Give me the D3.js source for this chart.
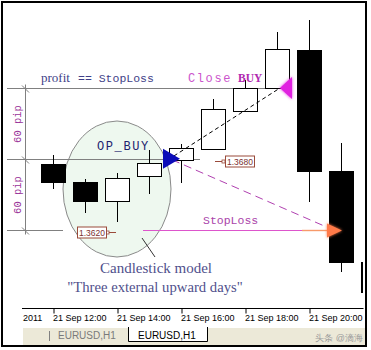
<!DOCTYPE html>
<html>
<head>
<meta charset="utf-8">
<script src="https://cdn.jsdelivr.net/npm/d3@7"></script>
<style>
  body { margin: 0; background: #fff; }
  svg text { font-family: "Liberation Sans", Arial, sans-serif; }
  svg .mono { font-family: "Liberation Mono", "Courier New", monospace; }
  svg .serif { font-family: "Liberation Serif", "Times New Roman", serif; }
</style>
</head>
<body>
<div id="chart"></div>
<script>
// EURUSD H1, 21 Sep 2011
const barTimes = ["2011-09-21T12:00", "2011-09-21T13:00", "2011-09-21T14:00", "2011-09-21T15:00",
                  "2011-09-21T16:00", "2011-09-21T17:00", "2011-09-21T18:00", "2011-09-21T19:00",
                  "2011-09-21T20:00", "2011-09-21T21:00", "2011-09-21T22:00"];
const opens  = [1.36756, 1.36603, 1.36442, 1.36654, 1.36790, 1.36883, 1.37205, 1.37400, 1.37723, 1.36696, 1.35924];
const highs  = [1.36832, 1.36628, 1.36679, 1.36874, 1.36925, 1.37307, 1.37468, 1.37875, 1.37977, 1.36934, 1.35924];
const lows   = [1.36543, 1.36340, 1.36264, 1.36501, 1.36594, 1.36880, 1.37200, 1.37400, 1.36433, 1.35840, 1.35670];
const closes = [1.36603, 1.36442, 1.36637, 1.36764, 1.36891, 1.37222, 1.37400, 1.37731, 1.36696, 1.35924, 1.35670];

const tickTimes  = ["2011-09-21T10:00", "2011-09-21T12:00", "2011-09-21T14:00",
                    "2011-09-21T16:00", "2011-09-21T18:00", "2011-09-21T20:00"];
const tickLabels = ["2011", "21 Sep 12:00", "21 Sep 14:00", "21 Sep 16:00", "21 Sep 18:00", "21 Sep 20:00"];

// trade levels
const takeProfit = 1.3740;
const openPrice  = 1.3680;
const stopLoss   = 1.3620;
const openTime   = "2011-09-21T16:00";
const closeTime  = "2011-09-21T19:00";
const stopTime   = "2011-09-21T21:00";

const parseTime = d3.timeParse("%Y-%m-%dT%H:%M");

class CandleChart {
    constructor(parentSelector) {
        this.parent = d3.select(parentSelector);
        this.wSvg = 371;
        this.hSvg = 350;
        this.plot = { left: 22, right: 363, axisY: 308.5 };
        this.colors = {
            grey: "#808080",
            purple: "#993399",
            navy: "#3f3f88",
            brown: "#9a4a3a",
            pink: "#dd55cc",
            orange: "#f79a6a"
        };
        this.bars = barTimes.map((t, i) => ({
            time: parseTime(t), open: opens[i], high: highs[i], low: lows[i], close: closes[i]
        }));
        this.init();
    }

    init() {
        this.svg = this.parent.append("svg")
            .attr("width", this.wSvg)
            .attr("height", this.hSvg);

        this.renderDefs();
        this.prepScales();
        this.renderEllipse();
        this.renderLevels();
        this.renderCandles();
        this.renderTrade();
        this.renderTexts();
        this.renderAxis();
        this.renderTabs();

        this.svg.append("rect")
            .attr("x", 2).attr("y", 2)
            .attr("width", 364).attr("height", 344)
            .attr("fill", "none").attr("stroke", "#000").attr("stroke-width", 2);
    }

    renderDefs() {
        const defs = this.svg.append("defs");
        defs.append("clipPath").attr("id", "plotClip")
            .append("rect")
            .attr("x", this.plot.left).attr("y", 0)
            .attr("width", this.plot.right - this.plot.left).attr("height", this.plot.axisY);
        const glow = defs.append("filter").attr("id", "glow")
            .attr("x", "-50%").attr("y", "-50%").attr("width", "200%").attr("height", "200%");
        glow.append("feGaussianBlur").attr("in", "SourceGraphic").attr("stdDeviation", 1.5).attr("result", "b");
        const merge = glow.append("feMerge");
        merge.append("feMergeNode").attr("in", "b");
        merge.append("feMergeNode").attr("in", "SourceGraphic");
    }

    prepScales() {
        // 32px per hour, 12:00 at x = 53
        this.xScale = d3.scaleTime()
            .domain([parseTime("2011-09-21T10:00"), parseTime("2011-09-21T22:00")])
            .range([-11, 373]);

        this.yScale = d3.scaleLinear()
            .domain([stopLoss, takeProfit])
            .range([229.5, 88]);
    }

    renderEllipse() {
        this.svg.append("ellipse")
            .attr("cx", 117).attr("cy", 189)
            .attr("rx", 54).attr("ry", 68)
            .attr("fill", "#eef8ef")
            .attr("stroke", "#8a8a8a").attr("stroke-width", 1);
        this.svg.append("line")
            .attr("x1", 142).attr("y1", 238).attr("x2", 155).attr("y2", 257)
            .attr("stroke", "#333").attr("stroke-width", 1);
    }

    renderLevels() {
        const g = this.svg.append("g").attr("class", "levels");
        const yT = Math.round(this.yScale(takeProfit)) + 0.5;
        const yO = Math.round(this.yScale(openPrice)) + 0.5;
        const yS = Math.round(this.yScale(stopLoss)) + 0.5;
        const xOpen = this.xScale(parseTime(openTime));
        const xClose = this.xScale(parseTime(closeTime));

        g.append("line").attr("x1", 7).attr("x2", xClose + 4).attr("y1", yT).attr("y2", yT)
            .attr("stroke", this.colors.grey);
        g.append("line").attr("x1", 7).attr("x2", xOpen + 19).attr("y1", yO).attr("y2", yO)
            .attr("stroke", this.colors.grey);
        g.append("line").attr("x1", 7).attr("x2", 63).attr("y1", yS).attr("y2", yS)
            .attr("stroke", this.colors.grey);

        // 60 pip ruler
        g.append("line").attr("x1", 25.5).attr("x2", 25.5).attr("y1", yT - 4).attr("y2", yS + 4)
            .attr("stroke", this.colors.grey);
        [yT, yO, yS].forEach(y => {
            g.append("line").attr("x1", 22).attr("y1", y - 3).attr("x2", 29).attr("y2", y + 4)
                .attr("stroke", this.colors.grey);
        });
        [[yT, yO], [yO, yS]].forEach(([a, b]) => {
            g.append("text")
                .attr("class", "mono")
                .attr("transform", `translate(21, ${(a + b) / 2}) rotate(-90)`)
                .attr("text-anchor", "middle")
                .attr("font-size", 10.5)
                .attr("fill", this.colors.purple)
                .text("60 pip");
        });
    }

    renderCandles() {
        const half = 12;
        const g = this.svg.append("g").attr("class", "candles").attr("clip-path", "url(#plotClip)");
        const candle = g.selectAll("g").data(this.bars).enter().append("g");

        candle.append("line")
            .attr("x1", d => Math.round(this.xScale(d.time)) + 0.5)
            .attr("x2", d => Math.round(this.xScale(d.time)) + 0.5)
            .attr("y1", d => Math.round(this.yScale(d.high)))
            .attr("y2", d => Math.round(this.yScale(d.low)))
            .attr("stroke", "#000");

        candle.append("rect")
            .attr("x", d => Math.round(this.xScale(d.time)) - half + 0.5)
            .attr("y", d => Math.round(this.yScale(Math.max(d.open, d.close))) + 0.5)
            .attr("width", half * 2)
            .attr("height", d => Math.max(1, Math.round(this.yScale(Math.min(d.open, d.close))) - Math.round(this.yScale(Math.max(d.open, d.close)))))
            .attr("fill", d => d.close >= d.open ? "#fff" : "#000")
            .attr("stroke", "#000");
    }

    renderTrade() {
        const g = this.svg.append("g").attr("class", "trade");
        const yT = this.yScale(takeProfit);
        const yO = this.yScale(openPrice);
        const yS = Math.round(this.yScale(stopLoss)) + 0.5;
        const xOpen = this.xScale(parseTime(openTime)) - 1;
        const xClose = this.xScale(parseTime(closeTime)) + 3;
        const xStop = this.xScale(parseTime(stopTime)) + 1;

        // stop loss line
        g.append("line").attr("x1", 143).attr("x2", 302).attr("y1", yS).attr("y2", yS)
            .attr("stroke", this.colors.pink).attr("stroke-width", 1.2);
        g.append("line").attr("x1", 302).attr("x2", xStop - 14).attr("y1", yS).attr("y2", yS)
            .attr("stroke", this.colors.orange).attr("stroke-width", 1.4);

        // dashed trade paths
        g.append("line").attr("x1", xOpen - 12).attr("y1", yO + 1).attr("x2", xClose).attr("y2", yT)
            .attr("stroke", "#000").attr("stroke-dasharray", "4,3");
        g.append("line").attr("x1", xOpen - 8).attr("y1", yO + 1).attr("x2", xStop - 12).attr("y2", yS - 2)
            .attr("stroke", "#b040b0").attr("stroke-dasharray", "8,5");

        // arrows
        g.append("path")
            .attr("d", `M${xOpen},${yO} L${xOpen - 17},${yO - 10} L${xOpen - 17},${yO + 10} Z`)
            .attr("fill", "#0c0cb8");
        g.append("path")
            .attr("d", `M${xClose},${yT} L${xClose + 12},${yT - 11} L${xClose + 12},${yT + 11} Z`)
            .attr("fill", "#e020e0").attr("filter", "url(#glow)");
        g.append("path")
            .attr("d", `M${xStop},${yS} L${xStop - 15},${yS - 7} L${xStop - 15},${yS + 7} Z`)
            .attr("fill", "#ff7a48").attr("filter", "url(#glow)");

        // price labels
        this.priceLabel(g, 77, Math.round(yS) + 1, stopLoss, "right");
        this.priceLabel(g, 225, Math.round(yO) + 2, openPrice, "left");
    }

    priceLabel(g, x, yc, price, side) {
        const w = 29, h = 11;
        const stubY = yc + 0.5;
        if (side === "right") {
            g.append("line").attr("x1", x + w).attr("x2", x + w + 10).attr("y1", stubY).attr("y2", stubY)
                .attr("stroke", this.colors.brown);
            g.append("rect").attr("x", x + w).attr("y", stubY - 1.5).attr("width", 3).attr("height", 3)
                .attr("fill", "#fff").attr("stroke", this.colors.brown).attr("stroke-width", 0.8);
        } else {
            g.append("line").attr("x1", x - 10).attr("x2", x).attr("y1", stubY).attr("y2", stubY)
                .attr("stroke", this.colors.brown);
            g.append("rect").attr("x", x - 3).attr("y", stubY - 1.5).attr("width", 3).attr("height", 3)
                .attr("fill", "#fff").attr("stroke", this.colors.brown).attr("stroke-width", 0.8);
        }
        g.append("rect")
            .attr("x", x + 0.5).attr("y", yc - h / 2 + 0.5)
            .attr("width", w).attr("height", h)
            .attr("fill", "#fff").attr("stroke", this.colors.brown);
        g.append("text")
            .attr("x", x + w / 2 + 0.5).attr("y", yc + 4)
            .attr("text-anchor", "middle")
            .attr("font-size", 8.5)
            .attr("fill", "#7a3030")
            .text(price.toFixed(4));
    }

    renderTexts() {
        const t = this.svg.append("g").attr("class", "notes");

        const profit = t.append("text").attr("x", 41).attr("y", 82).attr("fill", this.colors.navy);
        profit.append("tspan").attr("class", "serif").attr("font-size", 13).text("profit");
        profit.append("tspan").attr("class", "mono").attr("font-size", 11.5).attr("x", 78).text("== StopLoss");

        const close = t.append("text").attr("x", 188).attr("y", 82);
        close.append("tspan").attr("class", "mono").attr("font-size", 12)
            .attr("letter-spacing", 1.6).attr("fill", "#cc55cc").text("Close");
        close.append("tspan").attr("class", "serif").attr("font-size", 11.5)
            .attr("font-weight", "bold").attr("x", 238).attr("fill", "#b028b0").text("BUY");

        t.append("text").attr("class", "mono")
            .attr("x", 97).attr("y", 150)
            .attr("font-size", 12).attr("letter-spacing", 1.6)
            .attr("fill", "#20206e")
            .text("OP_BUY");

        t.append("text").attr("class", "mono")
            .attr("x", 203).attr("y", 224)
            .attr("font-size", 11.5)
            .attr("fill", "#aa44aa")
            .text("StopLoss");

        t.append("text").attr("class", "serif")
            .attr("x", 156).attr("y", 273)
            .attr("text-anchor", "middle")
            .attr("font-size", 15)
            .attr("fill", "#50508c")
            .text("Candlestick model");
        t.append("text").attr("class", "serif")
            .attr("x", 155).attr("y", 292)
            .attr("text-anchor", "middle")
            .attr("font-size", 14.7)
            .attr("fill", "#50508c")
            .text("\"Three external upward days\"");
    }

    renderAxis() {
        const ticks = tickTimes.map(parseTime);
        const axis = d3.axisBottom(this.xScale)
            .tickValues(ticks)
            .tickSize(5)
            .tickSizeOuter(0)
            .tickFormat((d, i) => tickLabels[i]);

        const g = this.svg.append("g")
            .attr("transform", `translate(0.5, ${this.plot.axisY})`)
            .call(axis);

        // axis line only over the plot area
        g.select(".domain").attr("d", `M${this.plot.left - 0.5},0H${this.plot.right}`).attr("stroke", "#000");
        g.selectAll(".tick line").attr("stroke", "#000");
        // the day label of the first tick starts at the plot's left edge
        g.selectAll(".tick")
            .filter(d => this.xScale(d) < this.plot.left)
            .select("line").remove();
        g.selectAll(".tick text")
            .attr("text-anchor", "start")
            .attr("x", d => Math.max(-1, this.plot.left - this.xScale(d)))
            .attr("y", 12.5)
            .attr("dy", 0)
            .attr("font-size", 9)
            .attr("font-family", "Liberation Sans, Arial, sans-serif")
            .attr("fill", "#000");
    }

    renderTabs() {
        const g = this.svg.append("g").attr("class", "tabs");
        g.append("rect").attr("x", 23).attr("y", 328).attr("width", 343).attr("height", 18)
            .attr("fill", "#ece9d8");
        g.append("line").attr("x1", 49.5).attr("x2", 49.5).attr("y1", 331).attr("y2", 341)
            .attr("stroke", "#808080");
        g.append("text").attr("x", 58).attr("y", 339).attr("font-size", 10)
            .attr("fill", "#7a7a7a").text("EURUSD,H1");

        g.append("rect").attr("x", 128).attr("y", 327).attr("width", 79).attr("height", 14)
            .attr("fill", "#fff");
        g.append("path").attr("d", "M128.5,327 V341.5 H207.5 V327")
            .attr("fill", "none").attr("stroke", "#000");
        g.append("text").attr("x", 138).attr("y", 339).attr("font-size", 10)
            .attr("fill", "#000").text("EURUSD,H1");

        g.append("text").attr("x", 363).attr("y", 341)
            .attr("text-anchor", "end")
            .attr("font-size", 9)
            .attr("font-family", "Noto Sans CJK SC, sans-serif")
            .attr("fill", "#9a9a9a")
            .text("头条 @滴海");
    }
}

new CandleChart("#chart");
</script>
</body>
</html>
